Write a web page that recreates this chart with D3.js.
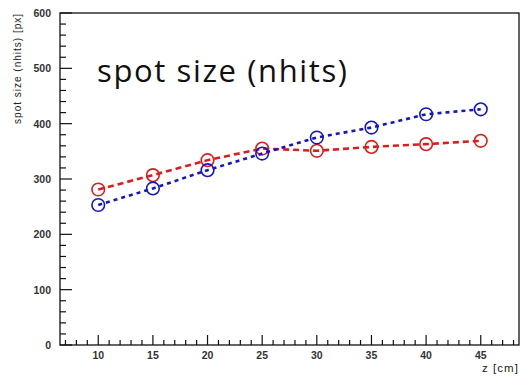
<!DOCTYPE html>
<html><head><meta charset="utf-8">
<script src="https://cdn.jsdelivr.net/npm/d3@7"></script>
<style>body{margin:0;background:#fff}svg{display:block}</style>
</head><body>
<svg id="c" width="521" height="377"></svg>
<script>
const zValues = [10, 15, 20, 25, 30, 35, 40, 45];
const redSeries = [281, 307, 334, 355, 351, 358, 363, 369];
const blueSeries = [253, 283, 316, 346, 375, 393, 417, 426];
const xTicks = [10, 15, 20, 25, 30, 35, 40, 45];
const yTicks = [0, 100, 200, 300, 400, 500, 600];

const svg = d3.select("#c");
const L = 60, R = 519, T = 13, B = 345;
const x = d3.scaleLinear().domain([6.5, 48.5]).range([L, R]);
const y = d3.scaleLinear().domain([0, 600]).range([B, T]);

function fitWidth(sel, w) {
  const n = sel.text().length;
  const cur = sel.node().getComputedTextLength();
  if (n > 1) sel.attr("letter-spacing", ((w - cur) / (n - 1)).toFixed(2));
}

// frame
svg.append("rect").attr("x", L).attr("y", T).attr("width", R - L).attr("height", B - T)
  .attr("fill", "none").attr("stroke", "#111").attr("stroke-width", 1.3);

// y axis ticks (inward)
const yMinor = d3.range(0, 601, 20);
svg.append("g").selectAll("line").data(yMinor).join("line")
  .attr("x1", L).attr("x2", d => L + (d % 100 === 0 ? 12 : 6))
  .attr("y1", d => y(d)).attr("y2", d => y(d))
  .attr("stroke", "#111").attr("stroke-width", 1.2);
svg.append("g").selectAll("text").data(yTicks).join("text")
  .attr("x", L - 9).attr("y", d => y(d) + 4)
  .attr("text-anchor", "end")
  .attr("font-family", "Liberation Sans, Arial, sans-serif").attr("font-weight", "bold")
  .attr("font-size", 10.5).attr("fill", "#333").text(d => d);

// x axis ticks (inward)
const xMinor = d3.range(7, 49, 1);
svg.append("g").selectAll("line").data(xMinor).join("line")
  .attr("y1", B).attr("y2", d => B - (d % 5 === 0 ? 10 : 5))
  .attr("x1", d => x(d)).attr("x2", d => x(d))
  .attr("stroke", "#111").attr("stroke-width", 1.2);
svg.append("g").selectAll("text").data(xTicks).join("text")
  .attr("x", d => x(d)).attr("y", B + 14)
  .attr("text-anchor", "middle")
  .attr("font-family", "Liberation Sans, Arial, sans-serif").attr("font-weight", "bold")
  .attr("font-size", 10.5).attr("fill", "#333").text(d => d);

// axis titles
const xt = svg.append("text").attr("x", R).attr("y", B + 27).attr("text-anchor", "end")
  .attr("font-family", "Liberation Sans, Arial, sans-serif")
  .attr("font-size", 11.5).attr("fill", "#222").text("z [cm]");
fitWidth(xt, 36);
const yt = svg.append("text").attr("transform", `translate(21,${T}) rotate(-90)`)
  .attr("text-anchor", "end")
  .attr("font-family", "Liberation Sans, Arial, sans-serif")
  .attr("font-size", 10).attr("fill", "#222").text("spot size (nhits) [px]");
fitWidth(yt, 110);

// big label
const big = svg.append("text").attr("x", 97).attr("y", 82)
  .attr("font-family", "Open Sans, sans-serif")
  .attr("font-size", 31).attr("fill", "#111").text("spot size (nhits)");
fitWidth(big, 250);

const line = d3.line().x(d => x(d[0])).y(d => y(d[1]));
function series(vals, color, dash) {
  const pts = zValues.map((z, i) => [z, vals[i]]);
  svg.append("path").datum(pts).attr("d", line)
    .attr("fill", "none").attr("stroke", color).attr("stroke-width", 2.6)
    .attr("stroke-dasharray", dash);
  svg.append("g").selectAll("circle").data(pts).join("circle")
    .attr("cx", d => x(d[0])).attr("cy", d => y(d[1])).attr("r", 6.3)
    .attr("fill", "none").attr("stroke", color).attr("stroke-width", 1.6);
}
series(redSeries, "#e01b1b", "6,4");
series(blueSeries, "#1515c8", "4,4");
</script>
</body></html>
